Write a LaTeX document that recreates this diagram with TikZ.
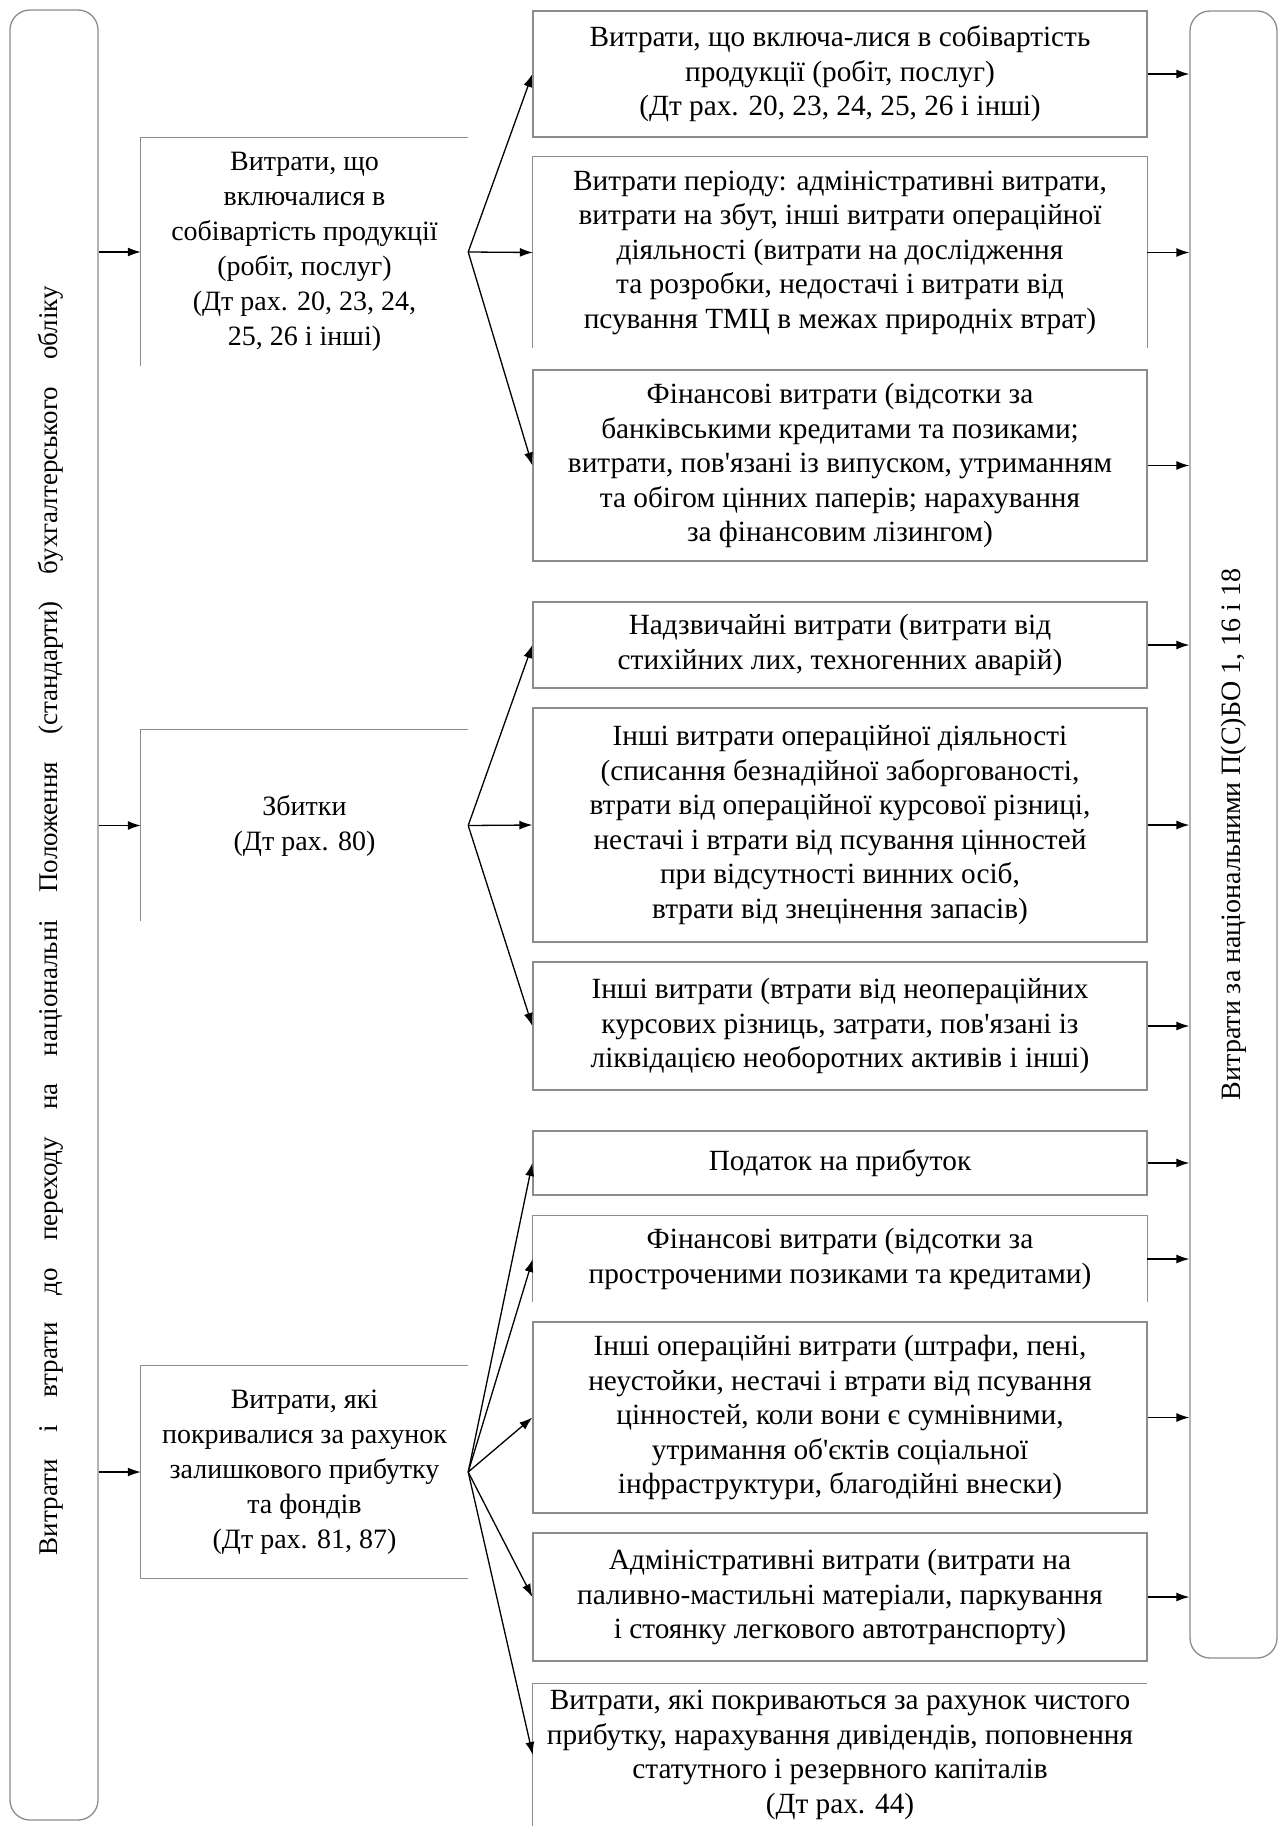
\documentclass[tikz,border=0pt]{standalone}
\usepackage{fontspec}
\setmainfont{Liberation Serif}[Ligatures=TeXOff]
\usetikzlibrary{arrows.meta,calc}

\begin{document}
\begin{tikzpicture}[x=1pt,y=-1pt,
  frame/.style={draw=black!45, line width=1.3pt},
  edge/.style={draw=black!45, line width=1.3pt},
  txt/.style={align=center, font=\fontsize{28}{35}\selectfont, inner sep=0pt},
  rtxt/.style={align=center, font=\fontsize{29.3}{34.5}\selectfont, inner sep=0pt},
  rbox/.style={rtxt, rectangle, minimum width=614pt},
  lbox/.style={txt, rectangle, minimum width=327pt},
  pillar/.style={frame, rectangle, rounded corners=20pt, inner sep=0pt},
  arr/.style={-{Latex[length=13pt,width=9pt]}, line width=1.3pt, black}
]
\useasboundingbox (0,0) rectangle (1282,1827);

% outer columns
\node[pillar, minimum width=88pt, minimum height=1810pt] (left) at (54,915) {};
\node[rotate=90, inner sep=0pt, font=\fontsize{27}{34}\selectfont] (lefttxt) at (51,920.5)
  {\makebox[1269pt][s]{Витрати і втрати до переходу на національні Положення (стандарти) бухгалтерського обліку}};
\node[pillar, minimum width=87pt, minimum height=1647pt] (right) at (1233.5,834.5) {};
\node[txt, rotate=90] (righttxt) at (1233.5,834.5) {Витрати за національними П(С)БО 1, 16 і 18};

% middle column
\node[lbox, minimum height=228pt] (L1) at (304.5,252) {Витрати, що\\включалися в\\собівартість продукції\\(робіт, послуг)\\(Дт рах. 20, 23, 24,\\25, 26 і інші)};
\node[lbox, minimum height=191pt] (L2) at (304.5,825.5) {Збитки\\(Дт рах. 80)};
\node[lbox, minimum height=212pt] (L3) at (304.5,1472) {Витрати, які\\покривалися за рахунок\\залишкового прибутку\\та фондів\\(Дт рах. 81, 87)};
\draw[edge] (L1.south west) -- (L1.north west) -- (L1.north east);
\draw[edge] (L2.south west) -- (L2.north west) -- (L2.north east);
\draw[edge] (L3.north east) -- (L3.north west) -- (L3.south west) -- (L3.south east);

% right column
\node[rbox, frame, minimum height=126pt] (R1) at (840,74) {Витрати, що включа-лися в собівартість\\продукції (робіт, послуг)\\(Дт рах. 20, 23, 24, 25, 26 і інші)};
\node[rbox, minimum height=191pt] (R2) at (840,252.5) {Витрати періоду: адміністративні витрати,\\витрати на збут, інші витрати операційної\\діяльності (витрати на дослідження\\та розробки, недостачі і витрати від\\псування ТМЦ в межах природніх втрат)};
\draw[edge] (R2.south west) -- (R2.north west) -- (R2.north east) -- (R2.south east);
\node[rbox, frame, minimum height=191pt] (R3) at (840,465.5) {Фінансові витрати (відсотки за\\банківськими кредитами та позиками;\\витрати, пов'язані із випуском, утриманням\\та обігом цінних паперів; нарахування\\за фінансовим лізингом)};
\node[rbox, frame, minimum height=86pt] (R4) at (840,645) {Надзвичайні витрати (витрати від\\стихійних лих, техногенних аварій)};
\node[rbox, frame, minimum height=234pt] (R5) at (840,825) {Інші витрати операційної діяльності\\(списання безнадійної заборгованості,\\втрати від операційної курсової різниці,\\нестачі і втрати від псування цінностей\\при відсутності винних осіб,\\втрати від знецінення запасів)};
\node[rbox, frame, minimum height=128pt] (R6) at (840,1026) {Інші витрати (втрати від неопераційних\\курсових різниць, затрати, пов'язані із\\ліквідацією необоротних активів і інші)};
\node[rbox, frame, minimum height=64pt] (R7) at (840,1163) {Податок на прибуток};
\node[rbox, minimum height=86pt] (R8) at (840,1259) {Фінансові витрати (відсотки за\\простроченими позиками та кредитами)};
\draw[edge] (R8.south west) -- (R8.north west) -- (R8.north east) -- (R8.south east);
\node[rbox, frame, minimum height=191pt] (R9) at (840,1417.5) {Інші операційні витрати (штрафи, пені,\\неустойки, нестачі і втрати від псування\\цінностей, коли вони є сумнівними,\\утримання об'єктів соціальної\\інфраструктури, благодійні внески)};
\node[rbox, frame, minimum height=128pt] (R10) at (840,1597) {Адміністративні витрати (витрати на\\паливно-мастильні матеріали, паркування\\і стоянку легкового автотранспорту)};
\node[rbox, minimum height=142pt] (R11) at (840,1755) {Витрати, які покриваються за рахунок чистого\\прибутку, нарахування дивідендів, поповнення\\статутного і резервного капіталів\\(Дт рах. 44)};
\draw[edge] (R11.south west) -- (R11.north west) -- (R11.north east);

% inputs from the left column
\foreach \n in {L1,L2,L3}
  \draw[arr] (left.east |- \n.west) -- (\n.west);

% fan-out arrows
\foreach \n in {R1,R2,R3} \draw[arr] (L1.east) -- (\n.west);
\foreach \n in {R4,R5,R6} \draw[arr] (L2.east) -- (\n.west);
\foreach \n in {R7,R8,R9,R10,R11} \draw[arr] (L3.east) -- (\n.west);

% outputs into the right column
\foreach \n in {R1,R2,R3,R4,R5,R6,R7,R8,R9,R10}
  \draw[arr] (\n.east) -- (\n.east -| right.west);
\end{tikzpicture}
\end{document}
